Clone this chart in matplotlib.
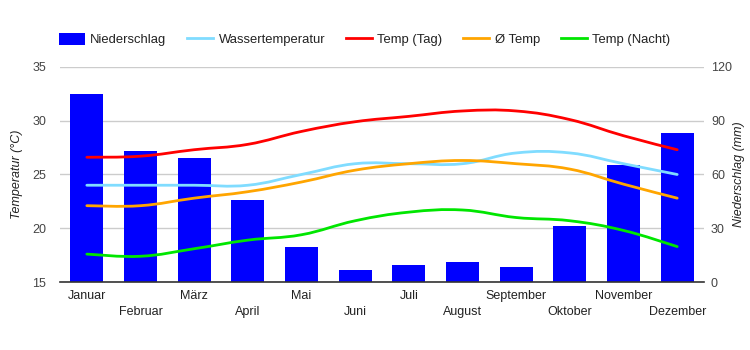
import matplotlib
matplotlib.use('Agg')
import matplotlib.pyplot as plt
from matplotlib.path import Path
from matplotlib.patches import PathPatch, Patch
from matplotlib.lines import Line2D

plt.rcParams['font.family'] = ['Liberation Sans', 'DejaVu Sans']
plt.rcParams['font.size'] = 9

months = ['Januar', 'Februar', 'März', 'April', 'Mai', 'Juni',
          'Juli', 'August', 'September', 'Oktober', 'November', 'Dezember']
niederschlag = [105, 73, 69, 46, 19.5, 7, 9.5, 11, 8.5, 31, 65.5, 83]
wasser = [24.0, 24.0, 24.0, 24.0, 25.0, 26.0, 26.0, 26.0, 27.0, 27.0, 26.0, 25.0]
temp_tag = [26.6, 26.7, 27.3, 27.8, 29.0, 29.9, 30.4, 30.9, 30.9, 30.1, 28.6, 27.3]
temp_avg = [22.1, 22.1, 22.8, 23.4, 24.3, 25.4, 26.0, 26.3, 26.0, 25.5, 24.1, 22.8]
temp_nacht = [17.6, 17.4, 18.1, 18.9, 19.4, 20.7, 21.5, 21.7, 21.0, 20.7, 19.8, 18.3]

col_bar = '#0000ff'
col_wasser = '#80dcff'
col_tag = '#ff0000'
col_avg = '#ffa500'
col_nacht = '#00e600'
txt_col = '#222222'


def smooth_path(xs, ys, k=0.2):
    # cubic bezier through the points (catmull-rom style control points)
    verts = [(xs[0], ys[0])]
    codes = [Path.MOVETO]
    n = len(xs)
    for i in range(n - 1):
        x0, y0 = xs[max(i - 1, 0)], ys[max(i - 1, 0)]
        x1, y1 = xs[i], ys[i]
        x2, y2 = xs[i + 1], ys[i + 1]
        x3, y3 = xs[min(i + 2, n - 1)], ys[min(i + 2, n - 1)]
        c1 = (x1 + (x2 - x0) * k, y1 + (y2 - y0) * k)
        c2 = (x2 - (x3 - x1) * k, y2 - (y3 - y1) * k)
        verts += [c1, c2, (x2, y2)]
        codes += [Path.CURVE4] * 3
    return Path(verts, codes)


fig = plt.figure(figsize=(7.5, 3.5), dpi=100)
ax = fig.add_axes([0.08, 0.194, 0.8587, 0.615])
ax2 = ax.twinx()
ax.set_zorder(2)
ax.patch.set_visible(False)
ax2.set_zorder(1)

x = list(range(len(months)))

# bars on the rain axis, grid below them
ax2.bar(x, niederschlag, width=0.61, color=col_bar, zorder=2)
ax2.set_ylim(0, 120)
ax2.set_yticks([0, 30, 60, 90, 120])
ax2.grid(axis='y', color='#cccccc', linewidth=1, zorder=0)
ax2.set_axisbelow(True)
ax2.tick_params(axis='y', length=0, pad=5, labelcolor='#444444', labelsize=9)
ax2.set_ylabel('Niederschlag (mm)', style='italic', color=txt_col, rotation=90)
ax2.yaxis.set_label_coords(1.045, 0.5)

for series, c in [(wasser, col_wasser), (temp_tag, col_tag),
                  (temp_avg, col_avg), (temp_nacht, col_nacht)]:
    ax.add_patch(PathPatch(smooth_path(x, series), facecolor='none',
                           edgecolor=c, linewidth=2, zorder=3, capstyle='round'))

ax.set_ylim(15, 35)
ax.set_yticks([15, 20, 25, 30, 35])
ax.set_xlim(-0.5, 11.5)
ax.tick_params(axis='y', length=0, pad=10, labelcolor='#444444', labelsize=9)
ax.set_ylabel('Temperatur (°C)', style='italic', color=txt_col)
ax.yaxis.set_label_coords(-0.058, 0.5)

ax.set_xticks(x)
ax.set_xticklabels([m if i % 2 == 0 else '\n' + m for i, m in enumerate(months)],
                   color=txt_col, fontsize=9, linespacing=1.45)
ax.tick_params(axis='x', length=0, pad=6)

for a in (ax, ax2):
    for s in ('top', 'left', 'right'):
        a.spines[s].set_visible(False)
    a.spines['bottom'].set_visible(False)
ax.spines['bottom'].set_visible(True)
ax.spines['bottom'].set_color('#333333')
ax.spines['bottom'].set_linewidth(1.2)

handles = [Patch(facecolor=col_bar, edgecolor='none'),
           Line2D([], [], color=col_wasser, lw=2),
           Line2D([], [], color=col_tag, lw=2),
           Line2D([], [], color=col_avg, lw=2),
           Line2D([], [], color=col_nacht, lw=2)]
labels = ['Niederschlag', 'Wassertemperatur', 'Temp (Tag)', 'Ø Temp', 'Temp (Nacht)']
fig.legend(handles, labels, loc='center', bbox_to_anchor=(0.486, 0.887), ncol=5,
           frameon=False, fontsize=9.4, handlelength=2.0, handleheight=1.0,
           handletextpad=0.4, columnspacing=1.6, labelcolor=txt_col)

fig.savefig('out.png', dpi=100)
